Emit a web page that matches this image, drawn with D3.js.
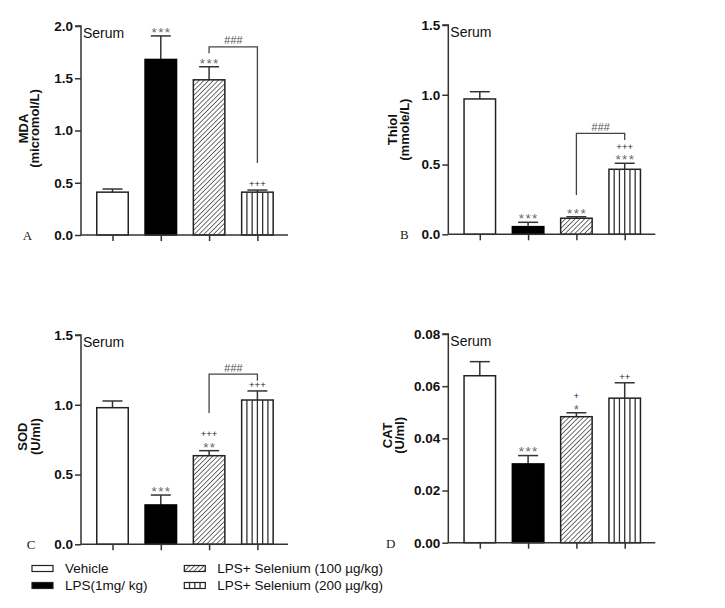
<!DOCTYPE html>
<html><head><meta charset="utf-8">
<script src="https://cdn.jsdelivr.net/npm/d3@7"></script>
<style>
body{margin:0;background:#fff;}
svg{display:block;font-family:"Liberation Sans",Arial,sans-serif;}
</style></head>
<body>
<svg id="chart" width="725" height="608"></svg>
<script>
// ---------------- data ----------------
const groups = ["Vehicle", "LPS(1mg/ kg)", "LPS+ Selenium (100 µg/kg)", "LPS+ Selenium (200 µg/kg)"];

const mdaMean = [0.41, 1.68, 1.485, 0.41];
const mdaErr  = [0.03, 0.225, 0.125, 0.02];
const mdaSig  = [[], ["***"], ["***"], ["+++"]];
const mdaTicks = [0, 0.5, 1.0, 1.5, 2.0];

const thiolMean = [0.97, 0.055, 0.115, 0.466];
const thiolErr  = [0.052, 0.031, 0.011, 0.043];
const thiolSig  = [[], ["***"], ["***"], ["***", "+++"]];
const thiolTicks = [0, 0.5, 1.0, 1.5];

const sodMean = [0.979, 0.282, 0.635, 1.034];
const sodErr  = [0.048, 0.071, 0.036, 0.065];
const sodSig  = [[], ["***"], ["**", "+++"], ["+++"]];
const sodTicks = [0, 0.5, 1.0, 1.5];

const catMean = [0.064, 0.0302, 0.0483, 0.0554];
const catErr  = [0.0054, 0.0032, 0.0015, 0.0059];
const catSig  = [[], ["***"], ["*", "+"], ["++"]];
const catTicks = [0, 0.02, 0.04, 0.06, 0.08];

// brackets: [fromGroup, toGroup, topValue, leftEndValue, rightEndValue, label]
const mdaBracket   = [2, 3, 1.80, 1.74, 0.69, "###"];
const thiolBracket = [2, 3, 0.724, 0.282, 0.676, "###"];
const sodBracket   = [2, 3, 1.22, 0.941, 1.172, "###"];

// ---------------- layout ----------------
const svg = d3.select("#chart");
const ink = "#333";
const styles = ["white", "black", "hatch", "vstripe"];

const defs = svg.append("defs");
const pat = defs.append("pattern").attr("id", "hatch")
  .attr("patternUnits", "userSpaceOnUse").attr("width", 3.4).attr("height", 3.4)
  .attr("patternTransform", "rotate(45)");
pat.append("rect").attr("width", 3.4).attr("height", 3.4).attr("fill", "white");
pat.append("line").attr("x1", 0).attr("y1", 0).attr("x2", 0).attr("y2", 3.4)
  .attr("stroke", "#222").attr("stroke-width", 1.3);

function stripes(g, x, y, w, h, n) {
  for (let k = 1; k < n; k++) {
    g.append("line").attr("x1", x + w * k / n).attr("x2", x + w * k / n)
      .attr("y1", y).attr("y2", y + h).attr("stroke", "#333").attr("stroke-width", 1.3);
  }
}

function panel(cfg) {
  const g = svg.append("g");
  const y = d3.scaleLinear().domain(cfg.domain).range([cfg.bottom, cfg.top]);
  const x = d3.scalePoint().domain(groups).range([cfg.axisX + 31.5, cfg.axisX + 31.5 + 3 * 48.3]);
  const bw = 31.5;

  cfg.mean.forEach((m, i) => {
    const cx = x(groups[i]);
    const x0 = cx - bw / 2, yt = y(m), h = y(0) - y(m);
    const ye = y(m + cfg.err[i]);
    g.append("line").attr("x1", cx).attr("x2", cx).attr("y1", yt).attr("y2", ye)
      .attr("stroke", ink).attr("stroke-width", 1.5);
    g.append("line").attr("x1", cx - 10).attr("x2", cx + 10).attr("y1", ye).attr("y2", ye)
      .attr("stroke", ink).attr("stroke-width", 1.5);
    const st = styles[i];
    const fill = st === "black" ? "black" : st === "hatch" ? "url(#hatch)" : "white";
    g.append("rect").attr("x", x0).attr("y", yt).attr("width", bw).attr("height", h)
      .attr("fill", fill).attr("stroke", st === "black" ? "black" : "#222").attr("stroke-width", 1.5);
    if (st === "vstripe") stripes(g, x0, yt, bw, h, 6);

    // significance marks (bottom line first)
    cfg.sig[i].forEach((s, k) => {
      const c = ye - 6.5 - 10.5 * k;
      const star = s.includes("*");
      g.append("text").attr("x", cx + (star ? 0.7 : 0)).attr("y", star ? c + 7.4 : c + 3.5)
        .attr("text-anchor", "middle")
        .attr("font-size", star ? 13.5 : 9.5)
        .attr("letter-spacing", star ? 1.4 : 0)
        .attr("fill", star ? "#666" : "#222")
        .text(s);
    });
  });

  if (cfg.bracket) {
    const [a, b, top, le, re, lab] = cfg.bracket;
    const xa = x(groups[a]), xb = x(groups[b]);
    g.append("path").attr("d", `M${xa},${y(le)}V${y(top)}H${xb}V${y(re)}`)
      .attr("fill", "none").attr("stroke", "#444").attr("stroke-width", 1.3);
    g.append("text").attr("x", (xa + xb) / 2).attr("y", y(top) - 6.5 + 4)
      .attr("text-anchor", "middle").attr("font-size", 11).attr("fill", "#555")
      .attr("font-style", "italic").text(lab);
  }

  const ya = g.append("g").attr("transform", `translate(${cfg.axisX},0)`)
    .call(d3.axisLeft(y).tickValues(cfg.ticks).tickFormat(d3.format(cfg.fmt)).tickSize(6).tickPadding(2));
  ya.select(".domain").attr("stroke", ink).attr("stroke-width", 1.5).attr("d", `M-6,${cfg.top}H0V${cfg.bottom}`);
  ya.selectAll(".tick line").attr("stroke", ink).attr("stroke-width", 1.5);
  ya.selectAll(".tick text").attr("font-size", 13.5).attr("font-weight", "bold")
    .attr("font-family", "Liberation Sans, Arial, sans-serif").attr("fill", "#111");

  const xa = g.append("g").attr("transform", `translate(0,${cfg.bottom})`)
    .call(d3.axisBottom(x).tickSize(6).tickFormat(""));
  xa.select(".domain").attr("stroke", ink).attr("stroke-width", 1.5)
    .attr("d", `M${cfg.axisX},0H${cfg.axisX + 207}`);
  xa.selectAll(".tick line").attr("stroke", ink).attr("stroke-width", 1.5);

  const midY = (cfg.top + cfg.bottom) / 2 + cfg.labelDy;
  cfg.ylabel.forEach((t, k) => {
    g.append("text").attr("transform", `translate(${cfg.axisX + cfg.labelX[k]},${midY}) rotate(-90)`)
      .attr("text-anchor", "middle").attr("font-size", 13).attr("font-weight", "bold")
      .attr("fill", "#111").text(t);
  });

  g.append("text").attr("x", cfg.axisX + 2).attr("y", cfg.top + 12)
    .attr("font-size", 14).attr("fill", "#111").text("Serum");

  g.append("text").attr("x", cfg.letterX).attr("y", cfg.bottom + 5)
    .attr("font-family", "Liberation Serif, Times New Roman, serif")
    .attr("font-size", 13).attr("fill", "#222").text(cfg.letter);
}

panel({mean: mdaMean, err: mdaErr, sig: mdaSig, ticks: mdaTicks, domain: [0, 2], fmt: ".1f",
  axisX: 81, top: 26, bottom: 235, bracket: mdaBracket, ylabel: ["MDA", "(micromol/L)"],
  labelX: [-53.5, -41.7], labelDy: -2, letter: "A", letterX: 22.7});
panel({mean: thiolMean, err: thiolErr, sig: thiolSig, ticks: thiolTicks, domain: [0, 1.5], fmt: ".1f",
  axisX: 448.3, top: 25, bottom: 234.3, bracket: thiolBracket, ylabel: ["Thiol", "(mmole/L)"],
  labelX: [-51.3, -39.5], labelDy: 0, letter: "B", letterX: 400});
panel({mean: sodMean, err: sodErr, sig: sodSig, ticks: sodTicks, domain: [0, 1.5], fmt: ".1f",
  axisX: 81, top: 335, bottom: 544.3, bracket: sodBracket, ylabel: ["SOD", "(U/ml)"],
  labelX: [-53.7, -41.5], labelDy: -3, letter: "C", letterX: 26.7});
panel({mean: catMean, err: catErr, sig: catSig, ticks: catTicks, domain: [0, 0.08], fmt: ".2f",
  axisX: 448.3, top: 334, bottom: 542.7, bracket: null, ylabel: ["CAT", "(U/ml)"],
  labelX: [-56.3, -44], labelDy: -3, letter: "D", letterX: 386});

const legPos = [[32, 565.5], [32, 582.5], [184.3, 565.5], [184.3, 582.5]];
groups.forEach((name, i) => {
  const [lx, ly] = legPos[i];
  const st = styles[i];
  const g = svg.append("g");
  g.append("rect").attr("x", lx).attr("y", ly).attr("width", 21).attr("height", 6)
    .attr("fill", st === "black" ? "black" : st === "hatch" ? "url(#hatch)" : "white")
    .attr("stroke", "#222").attr("stroke-width", 1.2);
  if (st === "vstripe") stripes(g, lx, ly, 21, 6, 4);
  g.append("text").attr("x", lx + 33).attr("y", ly + 7.5)
    .attr("font-size", 13.5).attr("fill", "#111").text(name);
});
</script>
</body></html>
